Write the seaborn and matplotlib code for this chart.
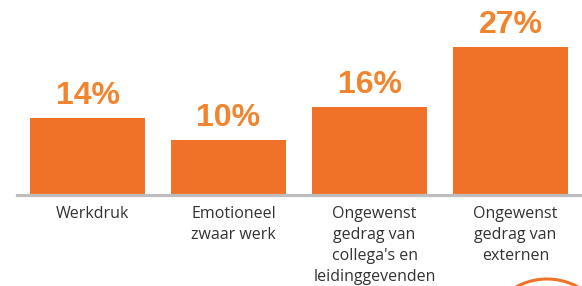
import seaborn as sns
import matplotlib.pyplot as plt
import matplotlib.transforms as mtransforms
from matplotlib.patches import Circle
import pandas as pd

# data
categories = [
    "Werkdruk",
    "Emotioneel\nzwaar werk",
    "Ongewenst\ngedrag van\ncollega's en\nleidinggevenden",
    "Ongewenst\ngedrag van\nexternen",
]
percentages = [14, 10, 16, 27]
value_labels = ["14%", "10%", "16%", "27%"]

ORANGE = "#F07128"
LABEL_ORANGE = "#F2842E"
GREY = "#BDBDBD"
TEXT = "#333333"

sns.set_style("white")

df = pd.DataFrame({"categorie": categories, "pct": percentages})

fig = plt.figure(figsize=(5.82, 2.86), dpi=100)
ax = fig.add_axes([17 / 582, (286 - 194.5) / 286, 564 / 582, 168 / 286])

sns.barplot(data=df, x="categorie", y="pct", color=ORANGE, saturation=1,
            width=0.816, ax=ax)
for p in ax.patches:
    p.set_edgecolor("none")

ax.set_xlim(-0.5, 3.5)
ax.set_ylim(0, 30.8)

# percentage labels boven de balken
ax.bar_label(ax.containers[0], labels=value_labels, padding=5,
             color=LABEL_ORANGE, fontsize=23, fontweight="bold",
             family=["Liberation Sans", "DejaVu Sans"])

# as en labels
ax.set_xlabel("")
ax.set_ylabel("")
ax.set_yticks([])
for side in ["top", "left", "right"]:
    ax.spines[side].set_visible(False)
ax.spines["bottom"].set_color(GREY)
ax.spines["bottom"].set_linewidth(2.3)
ax.tick_params(axis="x", length=0, pad=8.5)
shift = mtransforms.ScaledTranslation(5 / 100, 0, fig.dpi_scale_trans)
for lbl in ax.get_xticklabels():
    lbl.set_fontsize(11.5)
    lbl.set_family(["Open Sans", "DejaVu Sans"])
    lbl.set_color(TEXT)
    lbl.set_linespacing(1.4)
    lbl.set_transform(lbl.get_transform() + shift)

# decoratieve cirkel rechtsonder
fig.patches.append(Circle((5.47, -0.57), 0.64, transform=fig.dpi_scale_trans,
                          fill=False, edgecolor=ORANGE, linewidth=2.2))

fig.savefig("out.png", dpi=100, facecolor="white")
plt.close(fig)
